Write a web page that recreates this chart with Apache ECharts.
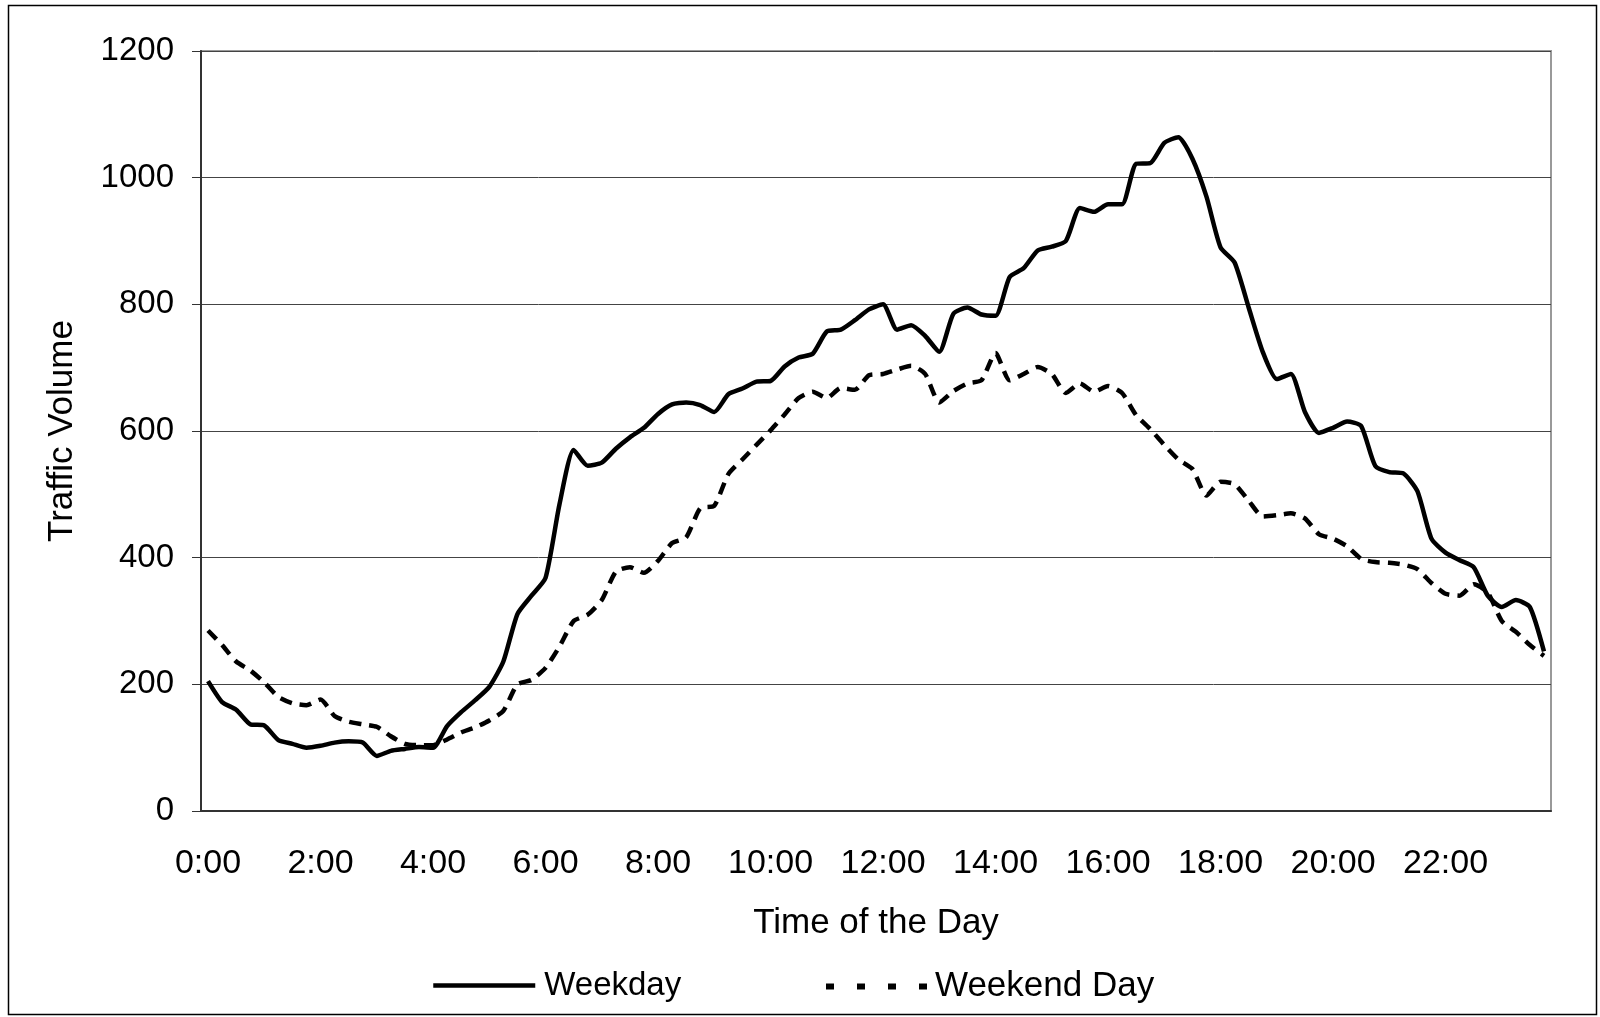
<!DOCTYPE html>
<html>
<head>
<meta charset="utf-8">
<script src="https://cdn.jsdelivr.net/npm/echarts@6/dist/echarts.min.js"></script>
<style>
  html, body { margin: 0; padding: 0; background: #fff; }
  #chart { width: 1600px; height: 1017px; }
</style>
</head>
<body>
<div id="chart"></div>
<script>
// 15-minute time slots, 0:00 .. 23:45
var times = [];
for (var h = 0; h < 24; h++) {
  for (var m = 0; m < 60; m += 15) {
    times.push(h + ":" + (m < 10 ? "0" + m : m));
  }
}

var weekday = [
  205, 172, 160, 137, 135, 112, 106, 100, 103, 108, 110, 108, 87, 95, 98, 101,
  100, 134, 156, 175, 196, 236, 311, 340, 368, 485, 570, 545, 550, 572, 590, 605,
  627, 642, 645, 641, 630, 658, 667, 678, 679, 702, 716, 722, 757, 760, 775, 792,
  800, 760, 767, 750, 725, 785, 795, 784, 782, 843, 857, 885, 891, 900, 952, 946,
  958, 958, 1022, 1023, 1055, 1064, 1030, 970, 890, 866, 795, 725, 682, 690, 630, 597,
  605, 615, 608, 545, 535, 533, 505, 430, 408, 396, 385, 340, 322, 333, 322, 252
];

var weekend = [
  285, 262, 236, 222, 203, 180, 170, 167, 176, 150, 141, 137, 133, 118, 106, 104,
  104, 113, 124, 132, 143, 158, 200, 207, 226, 260, 300, 310, 333, 378, 385, 376,
  395, 423, 432, 478, 482, 532, 555, 578, 601, 626, 652, 662, 652, 668, 665, 688,
  690, 697, 703, 690, 645, 663, 675, 680, 723, 680, 690, 701, 690, 660, 675, 662,
  671, 660, 625, 603, 578, 555, 540, 498, 520, 516, 490, 465, 467, 470, 462, 437,
  430, 418, 398, 393, 392, 389, 382, 360, 343, 340, 358, 345, 300, 283, 262, 245
];

var yMin = 0, yMax = 1200, yStep = 200;

var font = "'Liberation Sans', Arial, sans-serif";

var myChart = echarts.init(document.getElementById("chart"));

var option = {
  backgroundColor: "#fff",
  animation: false,
  graphic: [
    {
      type: "rect",
      shape: { x: 8.5, y: 5.5, width: 1588, height: 1009 },
      style: { fill: "none", stroke: "#000", lineWidth: 1.5 },
    },
  ],
  grid: {
    left: 201,
    right: 49,
    top: 51,
    bottom: 206,
    show: true,
    borderColor: "#999",
    borderWidth: 2,
  },
  legend: [
    {
      left: 426,
      top: 964,
      itemWidth: 102,
      itemHeight: 14,
      itemGap: 8,
      icon: "inherit",
      itemStyle: { opacity: 0 },
      textStyle: { fontFamily: font, fontSize: 33, color: "#000", padding: [0, 0, 0, 4] },
      data: [{ name: "Weekday", lineStyle: { width: 4.5 } }],
    },
    {
      left: 818,
      top: 964,
      itemWidth: 102,
      itemHeight: 14,
      itemGap: 8,
      icon: "inherit",
      itemStyle: { opacity: 0 },
      textStyle: { fontFamily: font, fontSize: 35, color: "#000", padding: [0, 0, 0, 2] },
      data: [{ name: "Weekend Day", lineStyle: { width: 6, type: [8, 23] } }],
    },
  ],
  xAxis: {
    type: "category",
    data: times,
    boundaryGap: true,
    name: "Time of the Day",
    nameLocation: "middle",
    nameGap: 95,
    nameTextStyle: { fontFamily: font, fontSize: 35, color: "#000" },
    axisLine: { lineStyle: { color: "#333", width: 2 } },
    axisTick: { interval: 0, length: 9, lineStyle: { color: "#333", width: 1 } },
    axisLabel: {
      interval: 7,
      margin: 36,
      fontFamily: font,
      fontSize: 34,
      color: "#000",
    },
    splitLine: { show: false },
  },
  yAxis: {
    type: "value",
    min: yMin,
    max: yMax,
    interval: yStep,
    name: "Traffic Volume",
    nameLocation: "middle",
    nameGap: 121,
    nameRotate: 90,
    nameTextStyle: { fontFamily: font, fontSize: 35, color: "#000" },
    axisLine: { show: true, lineStyle: { color: "#333", width: 2 } },
    axisTick: { show: true, length: 9, lineStyle: { color: "#333" } },
    axisLabel: {
      margin: 27,
      fontFamily: font,
      fontSize: 33,
      color: "#000",
      formatter: function (v) { return String(v); },
    },
    splitLine: { lineStyle: { color: "#444", width: 1 } },
  },
  series: [
    {
      name: "Weekday",
      type: "line",
      data: weekday,
      showSymbol: false,
      symbol: "none",
      smooth: 0.2,
      lineStyle: { color: "#000", width: 4.5 },
      itemStyle: { color: "#000" },
    },
    {
      name: "Weekend Day",
      type: "line",
      data: weekend,
      showSymbol: false,
      symbol: "none",
      smooth: 0.2,
      lineStyle: { color: "#000", width: 4.5, type: [12, 8] },
      itemStyle: { color: "#000" },
    },
  ],
};

myChart.setOption(option);
</script>
</body>
</html>
